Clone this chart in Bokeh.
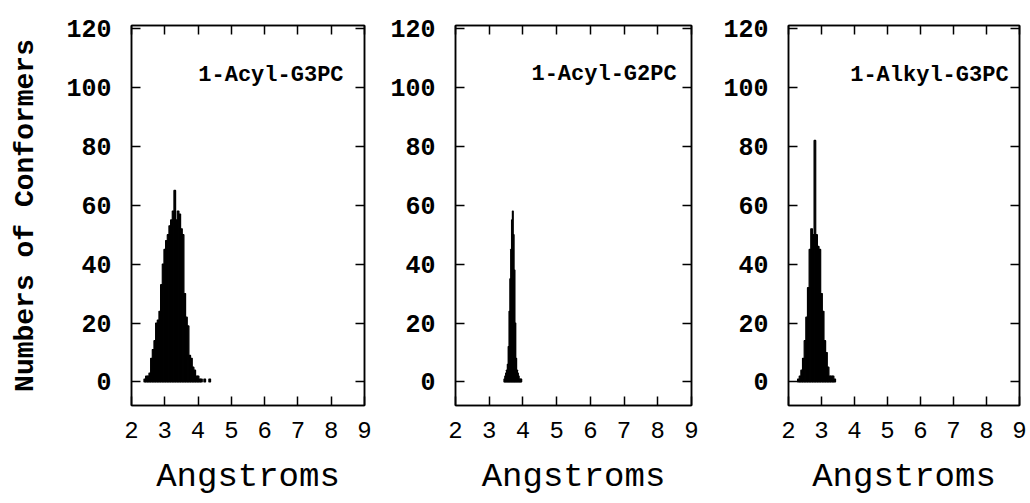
from bokeh.plotting import figure
from bokeh.layouts import row
from bokeh.models import Range1d, FixedTicker, LinearAxis, Label
from bokeh.embed import file_html
from bokeh.resources import INLINE

# ---------------- data ----------------
x_ticks = [2, 3, 4, 5, 6, 7, 8, 9]
y_ticks = [0, 20, 40, 60, 80, 100, 120]

titles = ["1-Acyl-G3PC", "1-Acyl-G2PC", "1-Alkyl-G3PC"]
x_label = "Angstroms"
y_label = "Numbers of Conformers"

# 1-Acyl-G3PC (bin width 0.05 Angstrom)
acyl_g3pc_bw = 0.05
acyl_g3pc_x = [2.40, 2.45, 2.50, 2.55, 2.60, 2.65, 2.70, 2.75, 2.80, 2.85,
               2.90, 2.95, 3.00, 3.05, 3.10, 3.15, 3.20, 3.25, 3.30, 3.35,
               3.40, 3.45, 3.50, 3.55, 3.60, 3.65, 3.70, 3.75, 3.80, 3.85,
               3.90, 3.95, 4.00, 4.05, 4.10, 4.20, 4.35]
acyl_g3pc_n = [1, 2, 2, 3, 8, 11, 14, 20, 21, 24,
               33, 40, 45, 48, 50, 53, 55, 58, 65, 55,
               58, 57, 52, 50, 30, 22, 19, 9, 8, 5,
               4, 2, 2, 1, 1, 1, 1]

# 1-Acyl-G2PC (bin width 0.025 Angstrom)
acyl_g2pc_bw = 0.025
acyl_g2pc_x = [3.450, 3.475, 3.500, 3.525, 3.550, 3.575, 3.600, 3.625, 3.650,
               3.675, 3.700, 3.725, 3.750, 3.775, 3.800, 3.825, 3.850, 3.875,
               3.900, 3.925, 3.950]
acyl_g2pc_n = [1, 2, 3, 4, 6, 12, 24, 35, 45,
               55, 58, 50, 38, 20, 8, 4, 3, 2,
               1, 1, 1]

# 1-Alkyl-G3PC (bin width 0.05 Angstrom)
alkyl_g3pc_bw = 0.05
alkyl_g3pc_x = [2.30, 2.35, 2.40, 2.45, 2.50, 2.55, 2.60, 2.65, 2.70, 2.75,
                2.80, 2.85, 2.90, 2.95, 3.00, 3.05, 3.10, 3.15, 3.20, 3.25,
                3.30, 3.35, 3.40]
alkyl_g3pc_n = [1, 2, 4, 8, 14, 22, 32, 45, 52, 50,
                82, 50, 46, 45, 30, 24, 14, 10, 5, 2,
                2, 2, 1]

panels = [
    (acyl_g3pc_x, acyl_g3pc_n, acyl_g3pc_bw),
    (acyl_g2pc_x, acyl_g2pc_n, acyl_g2pc_bw),
    (alkyl_g3pc_x, alkyl_g3pc_n, alkyl_g3pc_bw),
]

# ---------------- layout ----------------
FONT = "Liberation Mono"
lefts = [131, 81, 87]
frames = [233, 236, 231]
rights = [10, 10, 11]
title_x = [8.37, 8.56, 8.67]
title_y = [104, 104.5, 104]

figs = []
for i, ((xs, ns, bw), title) in enumerate(zip(panels, titles)):
    p = figure(width=lefts[i] + frames[i] + rights[i], height=503,
               min_border_left=lefts[i], min_border_right=rights[i],
               min_border_top=25, min_border_bottom=98,
               x_range=Range1d(2, 9), y_range=Range1d(-8, 121),
               output_backend="svg", toolbar_location=None,
               x_axis_location=None, y_axis_location=None)
    p.grid.visible = False
    p.outline_line_color = "black"
    p.outline_line_width = 1.5

    p.vbar(x=xs, top=ns, bottom=0, width=bw, fill_color="black",
           line_color="black", line_width=1.2)

    # bottom axis
    xb = LinearAxis(ticker=FixedTicker(ticks=x_ticks))
    xb.major_label_text_font = FONT
    xb.major_label_text_font_size = "24px"
    xb.major_label_standoff = 16
    xb.axis_label = x_label
    xb.axis_label_text_font = FONT
    xb.axis_label_text_font_size = "34px"
    xb.axis_label_text_font_style = "normal"
    xb.axis_label_text_color = "black"
    xb.axis_label_standoff = 17
    # left axis
    yl = LinearAxis(ticker=FixedTicker(ticks=y_ticks))
    yl.major_label_text_font = FONT
    yl.major_label_text_font_size = "25px"
    yl.major_label_text_font_style = "bold"
    yl.major_label_standoff = 20
    if i == 0:
        yl.axis_label = y_label
        yl.axis_label_text_font = FONT
        yl.axis_label_text_font_size = "28px"
        yl.axis_label_text_font_style = "bold"
        yl.axis_label_text_color = "black"
        yl.axis_label_standoff = 22
    # top / right axes (ticks only)
    xt = LinearAxis(ticker=FixedTicker(ticks=x_ticks))
    yr = LinearAxis(ticker=FixedTicker(ticks=y_ticks))
    for ax in (xt, yr):
        ax.major_label_text_font_size = "0px"
        ax.major_label_standoff = 0
    for ax in (xb, yl, xt, yr):
        ax.axis_line_color = "black"
        ax.axis_line_width = 1.5
        ax.major_tick_in = 9
        ax.major_tick_out = 0
        ax.major_tick_line_width = 1.5
        ax.major_tick_line_color = "black"
        ax.minor_tick_line_color = None
        ax.major_label_text_color = "black" if ax in (xb, yl) else None
    p.add_layout(xb, "below")
    p.add_layout(yl, "left")
    p.add_layout(xt, "above")
    p.add_layout(yr, "right")

    p.add_layout(Label(x=title_x[i], y=title_y[i], text=title,
                       text_font=FONT, text_font_size="22px",
                       text_font_style="bold", text_align="right",
                       text_baseline="middle", text_color="black"))
    figs.append(p)

layout = row(*figs)
open("out.html", "w").write(file_html(layout, INLINE))
